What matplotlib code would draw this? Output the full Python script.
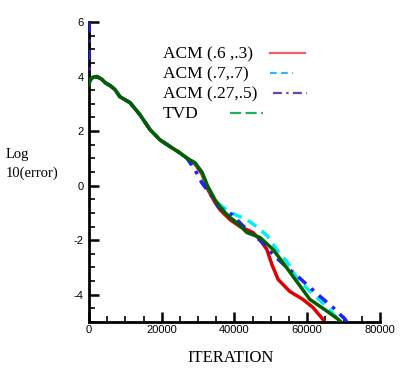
import matplotlib
matplotlib.use("Agg")
import matplotlib.pyplot as plt
from matplotlib.lines import Line2D
from matplotlib.ticker import MultipleLocator

plt.rcParams['axes.unicode_minus'] = False

# ---- data ----
common_x = [0, 200, 1000, 2200, 3500, 4400, 6000, 7150, 8500, 11300, 14000,
            16800, 19500, 22300, 25000, 27000]
common_y = [3.75, 3.85, 3.97, 4.0, 3.9, 3.78, 3.65, 3.52, 3.26, 3.04, 2.6,
            2.05, 1.68, 1.43, 1.2, 1.0]

red_tail_x = [29100, 31000, 32700, 34600, 36000, 38800, 41500, 45100, 47000,
              48900, 50300, 52000, 55200, 58800, 61600, 64300, 64800]
red_tail_y = [0.8, 0.45, -0.15, -0.6, -0.88, -1.25, -1.5, -1.72, -1.98,
              -2.34, -2.9, -3.44, -3.88, -4.17, -4.47, -4.9, -5.0]

cyan_tail_x = [29100, 31000, 32700, 35000, 37500, 40000, 43400, 46500, 49200,
               52000, 54400, 57200, 60200, 63500, 66500, 69000]
cyan_tail_y = [0.84, 0.5, -0.05, -0.6, -0.85, -1.05, -1.25, -1.54, -1.87,
               -2.42, -2.78, -3.4, -3.8, -4.2, -4.6, -5.0]

blue_tail_x = [27200, 29100, 31000, 33800, 35500, 37900, 39300, 42000, 45100,
               47800, 50600, 54400, 57200, 59900, 63500, 67100, 70400, 71000]
blue_tail_y = [0.95, 0.59, 0.11, -0.4, -0.77, -0.95, -1.06, -1.43, -1.8,
               -2.09, -2.53, -3.0, -3.3, -3.63, -4.06, -4.47, -4.9, -5.0]

green_tail_x = [29100, 31000, 32700, 34600, 36600, 38800, 41000, 43400, 47000,
                50600, 53300, 56100, 60700, 65400, 68500, 69300]
green_tail_y = [0.84, 0.51, -0.04, -0.51, -0.88, -1.17, -1.4, -1.72, -1.9,
                -2.34, -2.82, -3.33, -4.17, -4.6, -4.9, -5.0]

start_x = [0]
start_y = [6.0]

labels = ['ACM (.6 ,.3)', 'ACM (.7,.7)', 'ACM (.27,.5)', 'TVD']

# ---- figure ----
W, H = 402, 374
fig = plt.figure(figsize=(W/100, H/100), dpi=100)
ax = fig.add_axes([89/W, 1 - 322/H, 291/W, 300/H])

red_x = start_x + common_x + red_tail_x
red_y = start_y + common_y + red_tail_y
cyan_x = common_x + cyan_tail_x
cyan_y = common_y + cyan_tail_y
blue_x = start_x + common_x + blue_tail_x
blue_y = start_y + common_y + blue_tail_y
green_x = common_x + green_tail_x
green_y = [3.68] + common_y[1:] + green_tail_y

lw = 2.5
ax.plot(red_x, red_y, color='#e00000', lw=lw, zorder=2)
ax.plot(cyan_x, cyan_y, color='#00f0f0', lw=lw, ls=(0, (3, 2)), zorder=3)
ax.plot(blue_x, blue_y, color='#2020ff', lw=lw, ls=(0, (3, 2, 1, 2)), zorder=4)
ax.plot(green_x, green_y, color='#006000', lw=lw, zorder=5)

ax.set_xlim(0, 80000)
ax.set_ylim(-5, 6)
for s in ['top', 'right']:
    ax.spines[s].set_visible(False)
for s in ['left', 'bottom']:
    ax.spines[s].set_linewidth(2)
ax.xaxis.set_major_locator(MultipleLocator(20000))
ax.xaxis.set_minor_locator(MultipleLocator(5000))
ax.yaxis.set_major_locator(MultipleLocator(2))
ax.yaxis.set_minor_locator(MultipleLocator(0.5))
ax.tick_params(which='major', direction='in', length=7, width=1.8,
               labelsize=8, pad=4)
ax.tick_params(which='minor', direction='in', length=4, width=1.2)
ax.tick_params(axis='x', pad=2)
for lab in ax.get_xticklabels() + ax.get_yticklabels():
    lab.set_fontfamily('Liberation Sans')

ax.set_xlabel('ITERATION', fontfamily='Liberation Serif', fontsize=12)
ax.xaxis.set_label_coords(0.485, -0.095)

fig.text(6/W, 1 - 164/H, 'Log\n10(error)', ha='left', va='center',
         fontfamily='Liberation Serif', fontsize=10.5, linespacing=1.5)

# ---- legend (text left-aligned, sample line to the right) ----
leg_colors = ['#f06060', '#30b8e8', '#7040b0', '#20b060']
leg_styles = ['-', (0, (3, 2)), (0, (4, 2, 1, 2)), (0, (5, 2))]
leg_baselines = [58, 78, 98, 118]
leg_line_x = [(270, 305), (270, 293), (273, 307), (230, 263)]
leg_line_y = [53, 73, 93, 113]
for lab, c, st, yb, (x0, x1), yl in zip(labels, leg_colors, leg_styles,
                                         leg_baselines, leg_line_x, leg_line_y):
    fig.text(163/W, 1 - yb/H, lab, ha='left', va='baseline',
             fontfamily='Liberation Serif', fontsize=12.5)
    fig.add_artist(Line2D([x0/W, x1/W], [1 - yl/H, 1 - yl/H],
                          transform=fig.transFigure, color=c, lw=1.6, ls=st))

fig.savefig('out.png', dpi=100)
